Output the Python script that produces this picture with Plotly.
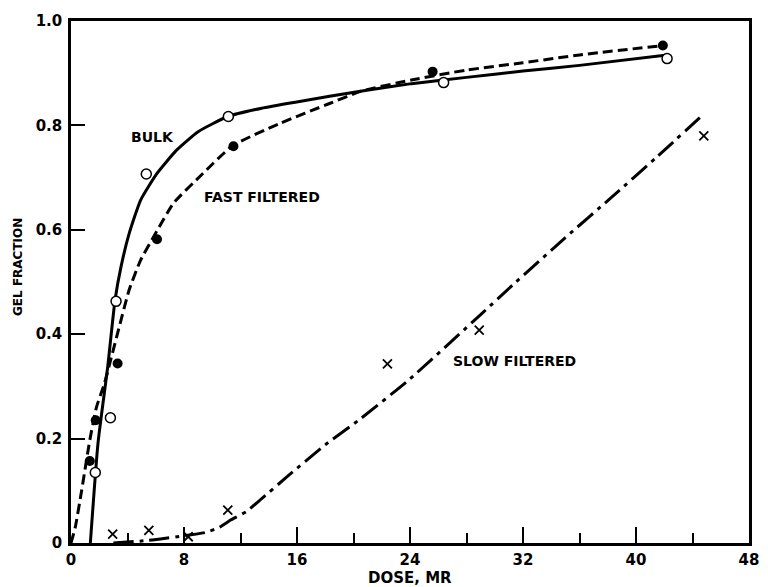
import plotly.graph_objects as go

# ---- data ----
bulk_x = [1.72, 2.79, 3.19, 5.33, 11.14, 26.38, 42.2]
bulk_y = [0.135, 0.24, 0.463, 0.707, 0.817, 0.882, 0.928]

fast_x = [1.33, 1.75, 3.3, 6.09, 11.5, 25.6, 41.9]
fast_y = [0.157, 0.235, 0.344, 0.582, 0.76, 0.903, 0.953]

slow_x = [2.95, 5.51, 8.3, 11.1, 22.4, 28.9, 44.8]
slow_y = [0.017, 0.024, 0.012, 0.063, 0.343, 0.408, 0.78]

# fitted curves as drawn in the reference
bulk_curve_x = [1.37, 1.91, 2.6, 3.12, 3.54, 4.12, 4.93, 6.09, 7.49, 9.0, 11.1, 13.5, 15.98, 20.6, 24.1, 28.0, 32.0, 36.0, 42.2]
bulk_curve_y = [0.0, 0.191, 0.338, 0.466, 0.529, 0.593, 0.657, 0.708, 0.753, 0.788, 0.817, 0.833, 0.845, 0.866, 0.88, 0.892, 0.904, 0.915, 0.935]

fast_curve_x = [0.0, 0.3, 0.75, 1.33, 1.8, 2.37, 3.3, 4.12, 4.93, 5.98, 7.26, 9.23, 11.44, 14.8, 18.3, 20.6, 24.1, 28.0, 32.0, 36.0, 41.9]
fast_curve_y = [0.0, 0.03, 0.1, 0.197, 0.26, 0.306, 0.402, 0.485, 0.542, 0.593, 0.651, 0.705, 0.761, 0.804, 0.842, 0.866, 0.887, 0.906, 0.92, 0.935, 0.953]

slow_curve_x = [3.0, 5.5, 8.3, 9.5, 10.5, 11.3, 12.4, 13.5, 15.3, 18.0, 20.4, 23.9, 29.1, 31.3, 35.0, 38.3, 41.5, 44.6]
slow_curve_y = [0.0, 0.005, 0.015, 0.02, 0.03, 0.044, 0.06, 0.085, 0.127, 0.188, 0.236, 0.312, 0.44, 0.495, 0.585, 0.663, 0.74, 0.817]

x_ticks = [0, 8, 16, 24, 32, 40, 48]
y_ticks = [0, 0.2, 0.4, 0.6, 0.8, 1.0]
y_tick_text = ["0", "0.2", "0.4", "0.6", "0.8", "1.0"]

FONT = "DejaVu Sans"

fig = go.Figure()

fig.add_trace(go.Scatter(x=bulk_curve_x, y=bulk_curve_y, mode="lines",
                         line=dict(color="black", width=3, shape="spline", smoothing=0.5),
                         showlegend=False, hoverinfo="skip"))
fig.add_trace(go.Scatter(x=fast_curve_x, y=fast_curve_y, mode="lines",
                         line=dict(color="black", width=3, dash="10px,5px", shape="spline", smoothing=0.5),
                         showlegend=False, hoverinfo="skip"))
fig.add_trace(go.Scatter(x=slow_curve_x, y=slow_curve_y, mode="lines",
                         line=dict(color="black", width=3, dash="20px,6px,4px,6px", shape="spline", smoothing=0.5),
                         showlegend=False, hoverinfo="skip"))

fig.add_trace(go.Scatter(x=bulk_x, y=bulk_y, mode="markers", name="Bulk",
                         marker=dict(symbol="circle", size=10, color="white",
                                     line=dict(color="black", width=1.5)),
                         showlegend=False))
fig.add_trace(go.Scatter(x=fast_x, y=fast_y, mode="markers", name="Fast filtered",
                         marker=dict(symbol="circle", size=10, color="black"),
                         showlegend=False))
fig.add_trace(go.Scatter(x=slow_x, y=slow_y, mode="markers", name="Slow filtered",
                         marker=dict(symbol="x-thin", size=9, color="black",
                                     line=dict(color="black", width=1.8)),
                         showlegend=False))

label_font = dict(family=FONT, size=14, color="black", weight="bold")
fig.add_annotation(x=5.76, y=0.778, text="BULK", showarrow=False, font=label_font)
fig.add_annotation(x=13.54, y=0.663, text="FAST FILTERED", showarrow=False, font=label_font)
fig.add_annotation(x=31.4, y=0.349, text="SLOW FILTERED", showarrow=False, font=label_font)

fig.add_annotation(xref="paper", yref="paper", x=0.5, y=-0.067, text="DOSE, MR",
                   showarrow=False, font=dict(family=FONT, size=15, color="black", weight="bold"),
                   xanchor="center", yanchor="middle")
fig.add_annotation(xref="paper", yref="paper", x=-0.078, y=0.529, text="GEL FRACTION",
                   textangle=-90, showarrow=False,
                   font=dict(family=FONT, size=12, color="black", weight="bold"),
                   xanchor="center", yanchor="middle")

fig.update_xaxes(range=[0, 48], tickvals=x_ticks, ticks="inside", ticklen=16, tickwidth=2,
                 tickcolor="black", showline=True, linewidth=2.5, linecolor="black",
                 mirror=True, showgrid=False, zeroline=False,
                 minor=dict(dtick=4, tick0=0, ticks="inside", ticklen=10, tickwidth=2,
                            tickcolor="black", showgrid=False),
                 tickfont=dict(family=FONT, size=15, color="black", weight="bold"),
                 ticklabelstandoff=1)
fig.update_yaxes(range=[0, 1.0], tickvals=y_ticks, ticktext=y_tick_text, ticks="inside",
                 ticklen=14, tickwidth=2, tickcolor="black", showline=True, linewidth=2.5,
                 linecolor="black", mirror=True, showgrid=False, zeroline=False,
                 tickfont=dict(family=FONT, size=15, color="black", weight="bold"),
                 ticklabelstandoff=3)

fig.update_layout(width=768, height=587, margin=dict(l=71, r=9, t=21, b=44),
                  paper_bgcolor="white", plot_bgcolor="white")

fig.write_html("out.html")
